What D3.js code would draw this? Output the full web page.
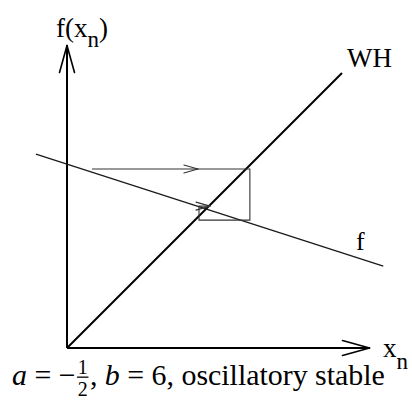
<!DOCTYPE html>
<html>
<head>
<meta charset="utf-8">
<script src="https://cdn.jsdelivr.net/npm/d3@7"></script>
<style>
  html, body { margin: 0; padding: 0; background: #fff; }
  svg { display: block; }
  text { font-family: "Liberation Serif", "Times New Roman", serif; fill: #000; }
</style>
</head>
<body>
<svg id="chart" width="412" height="409"></svg>
<script>
// Cobweb diagram: x_{n+1} = f(x_n), iterated against the 45-degree line (WH)
const axisExtent = 11;                       // axes run from 0 to this value
const whLine = [[0, 0], [10, 10]];           // 45-degree line x_{n+1} = x_n
const fLine = [[-1.13, 7.05], [11.5, 2.98]]; // f, the map being iterated
const cobweb = [                              // iteration path
  [0.91, 6.51], [6.65, 6.51], [6.65, 4.65], [4.80, 4.65], [4.80, 5.16], [5.20, 5.16]
];
const cobwebArrows = [                        // [segment start, arrow tip]
  [[0.91, 6.51], [4.76, 6.51]],
  [[4.80, 5.16], [5.20, 5.16]]
];
const labels = { y: "f(x", ySub: "n", x: "x", xSub: "n", wh: "WH", f: "f" };

const svg = d3.select("#chart");
const x = d3.scaleLinear().domain([0, 10]).range([67, 342]);
const y = d3.scaleLinear().domain([0, 10]).range([348, 73]);
const line = d3.line().x(d => x(d[0])).y(d => y(d[1]));

// open "V" arrowhead at the tip of a segment
function arrowHead(g, from, to, len, half, width, color) {
  const x0 = x(from[0]), y0 = y(from[1]), x1 = x(to[0]), y1 = y(to[1]);
  const ang = Math.atan2(y1 - y0, x1 - x0);
  const ux = Math.cos(ang), uy = Math.sin(ang);
  [-1, 1].forEach(s => {
    g.append("line")
      .attr("x1", x1).attr("y1", y1)
      .attr("x2", x1 - ux * len - uy * half * s)
      .attr("y2", y1 - uy * len + ux * half * s)
      .attr("stroke", color).attr("stroke-width", width)
      .attr("stroke-linecap", "round");
  });
}

// axes
const axes = svg.append("g");
axes.append("path").attr("d", line([[0, 0], [axisExtent, 0]]))
  .attr("stroke", "#000").attr("stroke-width", 2).attr("fill", "none");
axes.append("path").attr("d", line([[0, 0], [0, axisExtent]]))
  .attr("stroke", "#000").attr("stroke-width", 2).attr("fill", "none");
arrowHead(axes, [0, 0], [axisExtent, 0], 27, 7.5, 1.6, "#000");
arrowHead(axes, [0, 0], [0, axisExtent], 27, 7.5, 1.6, "#000");

// 45-degree line
svg.append("path").attr("d", line(whLine))
  .attr("stroke", "#000").attr("stroke-width", 2).attr("fill", "none");

// f
svg.append("path").attr("d", line(fLine))
  .attr("stroke", "#1a1a1a").attr("stroke-width", 1.3).attr("fill", "none");

// cobweb path with direction arrows
const web = svg.append("g");
web.append("path").attr("d", line(cobweb))
  .attr("stroke", "#333").attr("stroke-width", 1.1).attr("fill", "none");
cobwebArrows.forEach(([a, b]) => arrowHead(web, a, b, 14, 4, 1.1, "#333"));

// labels
const yl = svg.append("text").attr("x", 56).attr("y", 37).attr("font-size", 27);
yl.append("tspan").text(labels.y);
yl.append("tspan").attr("dy", 10).attr("font-size", 23).text(labels.ySub);
yl.append("tspan").attr("dy", -10).text(")");

const xl = svg.append("text").attr("x", 383).attr("y", 357).attr("font-size", 27);
xl.append("tspan").text(labels.x);
xl.append("tspan").attr("dy", 12).attr("font-size", 23).text(labels.xSub);

svg.append("text").attr("x", 347).attr("y", 67).attr("font-size", 27).text(labels.wh);
svg.append("text").attr("x", 356).attr("y", 250).attr("font-size", 26).text(labels.f);

// caption: a = −1/2, b = 6, oscillatory stable
const cap = svg.append("g");
const capSize = 21;
const t1 = cap.append("text").attr("x", 0).attr("y", 0).attr("font-size", capSize);
t1.append("tspan").attr("font-style", "italic").text("a");
t1.append("tspan").text(" = −");
let cx = t1.node().getComputedTextLength() + 1.5;
const fs = 14;
const n1 = cap.append("text").attr("x", cx).attr("y", -8).attr("font-size", fs).text("1");
const n2 = cap.append("text").attr("x", cx).attr("y", 8).attr("font-size", fs).text("2");
const fw = Math.max(n1.node().getComputedTextLength(), n2.node().getComputedTextLength());
cap.append("line").attr("x1", cx - 0.5).attr("x2", cx + fw + 0.5)
  .attr("y1", -5.5).attr("y2", -5.5).attr("stroke", "#000").attr("stroke-width", 0.9);
cx += fw + 1.5;
const t2 = cap.append("text").attr("x", cx).attr("y", 0).attr("font-size", capSize);
t2.append("tspan").text(", ");
t2.append("tspan").attr("font-style", "italic").text("b");
t2.append("tspan").text(" = 6, oscillatory stable");
const total = cx + t2.node().getComputedTextLength();
const k = 373 / total;
cap.attr("transform", `translate(12,385) scale(${k})`);
</script>
</body>
</html>
